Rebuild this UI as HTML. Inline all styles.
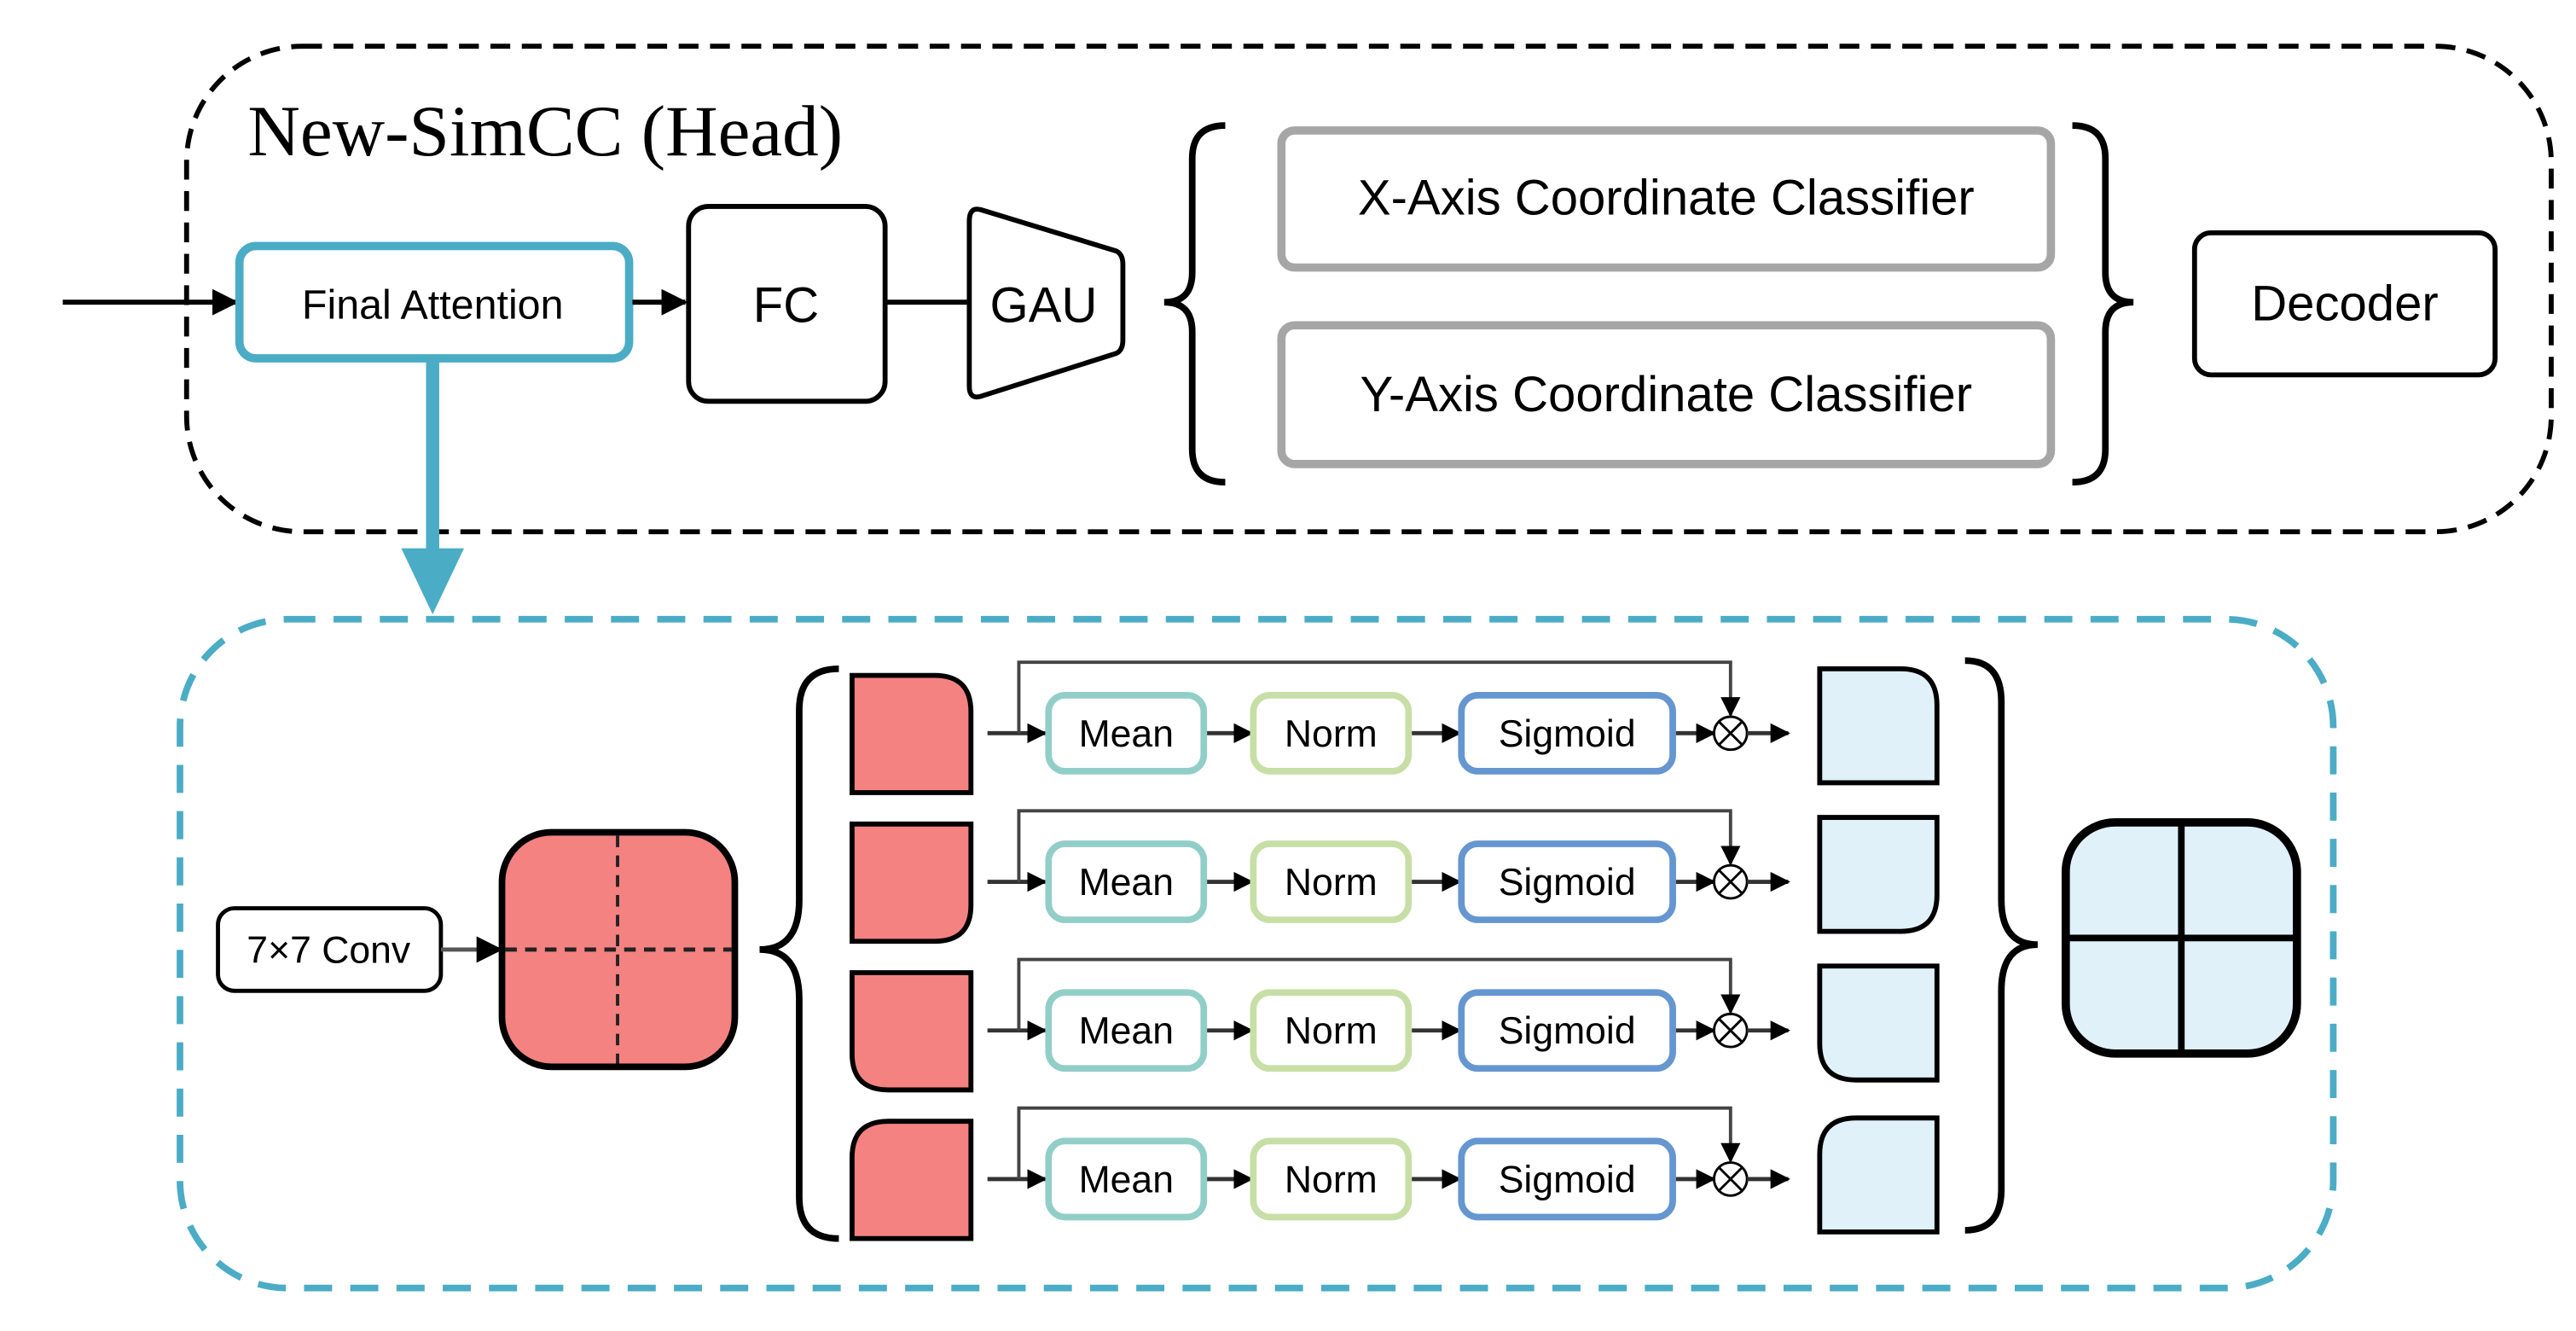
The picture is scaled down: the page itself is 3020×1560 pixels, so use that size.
<!DOCTYPE html>
<html><head><style>html,body{margin:0;padding:0;background:#fff}svg{display:block}</style></head>
<body>
<svg width="3020" height="1560" viewBox="0 0 1560 806" preserveAspectRatio="none" xmlns="http://www.w3.org/2000/svg">
<defs>
<marker id="ah" viewBox="0 0 10 10" refX="9" refY="5" markerWidth="12" markerHeight="12" markerUnits="userSpaceOnUse" orient="auto"><path d="M0,0L10,5L0,10z" fill="#000"/></marker>
<marker id="ahb" viewBox="0 0 10 10" refX="9" refY="5" markerWidth="16" markerHeight="16" markerUnits="userSpaceOnUse" orient="auto"><path d="M0,0L10,5L0,10z" fill="#000"/></marker>
</defs>
<g font-family="'Liberation Sans Narrow','Liberation Sans',sans-serif" fill="none">
<rect x="113" y="28" width="1432" height="294" rx="70" stroke="#000" stroke-width="3" stroke-dasharray="12,7"/>
<text x="150" y="94" font-family="'Liberation Serif',serif" font-size="44" fill="#000">New-SimCC (Head)</text>
<line x1="38" y1="183" x2="143" y2="183" stroke="#000" stroke-width="3" marker-end="url(#ahb)"/>
<rect x="145" y="149" width="236" height="68" rx="10" stroke="#4BACC6" stroke-width="5" fill="#fff"/>
<text x="262" y="193" font-size="25" fill="#000" text-anchor="middle">Final Attention</text>
<line x1="383" y1="183" x2="415" y2="183" stroke="#000" stroke-width="3" marker-end="url(#ahb)"/>
<rect x="417" y="125" width="119" height="118" rx="12" stroke="#000" stroke-width="3" fill="#fff"/>
<text x="476" y="195" font-size="30" fill="#000" text-anchor="middle">FC</text>
<line x1="536" y1="183" x2="586" y2="183" stroke="#000" stroke-width="3"/>
<path d="M594,127 L676,152 Q680,154 680,160 L680,206 Q680,212 676,214 L594,240 Q587,242 587,234 L587,134 Q587,125 594,127z" stroke="#000" stroke-width="3" fill="#fff"/>
<text x="632" y="195" font-size="30" fill="#000" text-anchor="middle">GAU</text>
<path d="M742,76 Q722,76 722,96 L722,165 Q722,183 705,183 Q722,183 722,201 L722,272 Q722,292 742,292" stroke="#000" stroke-width="4"/>
<rect x="776" y="79" width="466" height="83" rx="8" stroke="#A6A6A6" stroke-width="5" fill="#fff"/>
<text x="1009" y="130" font-size="30" fill="#000" text-anchor="middle">X-Axis Coordinate Classifier</text>
<rect x="776" y="197" width="466" height="84" rx="8" stroke="#A6A6A6" stroke-width="5" fill="#fff"/>
<text x="1009" y="249" font-size="30" fill="#000" text-anchor="middle">Y-Axis Coordinate Classifier</text>
<path d="M1255,76 Q1275,76 1275,96 L1275,165 Q1275,183 1292,183 Q1275,183 1275,201 L1275,272 Q1275,292 1255,292" stroke="#000" stroke-width="4"/>
<rect x="1329" y="141" width="182" height="86" rx="10" stroke="#000" stroke-width="3" fill="#fff"/>
<text x="1420" y="194" font-size="30" fill="#000" text-anchor="middle">Decoder</text>
<line x1="262" y1="218" x2="262" y2="334" stroke="#4BACC6" stroke-width="8"/>
<path d="M243,332 L281,332 L262,372z" fill="#4BACC6"/>
<rect x="109" y="375" width="1304" height="405" rx="65" stroke="#4BACC6" stroke-width="4" stroke-dasharray="17,11"/>
<rect x="132" y="550" width="135" height="50" rx="10" stroke="#000" stroke-width="2.5" fill="#fff"/>
<text x="199" y="583" font-size="23" fill="#000" text-anchor="middle">7×7 Conv</text>
<line x1="267" y1="575" x2="303" y2="575" stroke="#555" stroke-width="2.5" marker-end="url(#ahb)"/>
<rect x="304" y="504" width="141" height="142" rx="30" stroke="#000" stroke-width="4" fill="#F48281"/>
<line x1="374" y1="506" x2="374" y2="644" stroke="#222" stroke-width="2" stroke-dasharray="7,5"/>
<line x1="306" y1="575" x2="443" y2="575" stroke="#222" stroke-width="2.5" stroke-dasharray="7,5"/>
<path d="M508,405 Q484,405 484,430 L484,545 Q484,575 460,575 Q484,575 484,605 L484,725 Q484,750 508,750" stroke="#000" stroke-width="4"/>
<path d="M516,409 L566,409 Q588,409 588,431 L588,480 L516,480z" fill="#F48281" stroke="#000" stroke-width="3"/>
<path d="M516,499 L588,499 L588,548 Q588,570 566,570 L516,570z" fill="#F48281" stroke="#000" stroke-width="3"/>
<path d="M516,589 L588,589 L588,660 L538,660 Q516,660 516,638z" fill="#F48281" stroke="#000" stroke-width="3"/>
<path d="M538,679 L588,679 L588,750 L516,750 L516,701 Q516,679 538,679z" fill="#F48281" stroke="#000" stroke-width="3"/>
<g id="row">
<path d="M598,444 L633,444" stroke="#333" stroke-width="2.5" marker-end="url(#ah)"/>
<path d="M617,444 L617,401 L1048,401 L1048,433" stroke="#444" stroke-width="2" marker-end="url(#ah)"/>
<rect x="635" y="421" width="94" height="46" rx="10" stroke="#92CEC8" stroke-width="4" fill="#fff"/>
<text x="682" y="452" font-size="23" fill="#000" text-anchor="middle">Mean</text>
<path d="M731,444 L758,444" stroke="#333" stroke-width="2.5" marker-end="url(#ah)"/>
<rect x="759" y="421" width="94" height="46" rx="10" stroke="#C7DFA6" stroke-width="4" fill="#fff"/>
<text x="806" y="452" font-size="23" fill="#000" text-anchor="middle">Norm</text>
<path d="M855,444 L884,444" stroke="#333" stroke-width="2.5" marker-end="url(#ah)"/>
<rect x="885" y="421" width="128" height="46" rx="10" stroke="#6596D0" stroke-width="4" fill="#fff"/>
<text x="949" y="452" font-size="23" fill="#000" text-anchor="middle">Sigmoid</text>
<path d="M1015,444 L1038,444" stroke="#333" stroke-width="2.5" marker-end="url(#ah)"/>
<circle cx="1048" cy="444" r="10" stroke="#000" stroke-width="1.5" fill="#fff"/>
<path d="M1041,437L1055,451M1055,437L1041,451" stroke="#000" stroke-width="1.5"/>
<path d="M1058,444 L1083,444" stroke="#333" stroke-width="2.5" marker-end="url(#ah)"/>
</g>
<use href="#row" y="90"/>
<use href="#row" y="180"/>
<use href="#row" y="270"/>
<path d="M1102,405 L1151,405 Q1173,405 1173,427 L1173,474 L1102,474z" fill="#E0F1FA" stroke="#000" stroke-width="3"/>
<path d="M1102,495 L1173,495 L1173,542 Q1173,564 1151,564 L1102,564z" fill="#E0F1FA" stroke="#000" stroke-width="3"/>
<path d="M1102,585 L1173,585 L1173,654 L1124,654 Q1102,654 1102,632z" fill="#E0F1FA" stroke="#000" stroke-width="3"/>
<path d="M1124,677 L1173,677 L1173,746 L1102,746 L1102,699 Q1102,677 1124,677z" fill="#E0F1FA" stroke="#000" stroke-width="3"/>
<path d="M1190,400 Q1212,400 1212,425 L1212,545 Q1212,572 1234,572 Q1212,572 1212,600 L1212,720 Q1212,745 1190,745" stroke="#000" stroke-width="4"/>
<rect x="1251" y="498" width="140" height="140" rx="30" stroke="#000" stroke-width="5" fill="#E0F1FA"/>
<line x1="1321" y1="498" x2="1321" y2="638" stroke="#000" stroke-width="4"/>
<line x1="1251" y1="568" x2="1391" y2="568" stroke="#000" stroke-width="4"/>
</g>
</svg>
</body></html>
